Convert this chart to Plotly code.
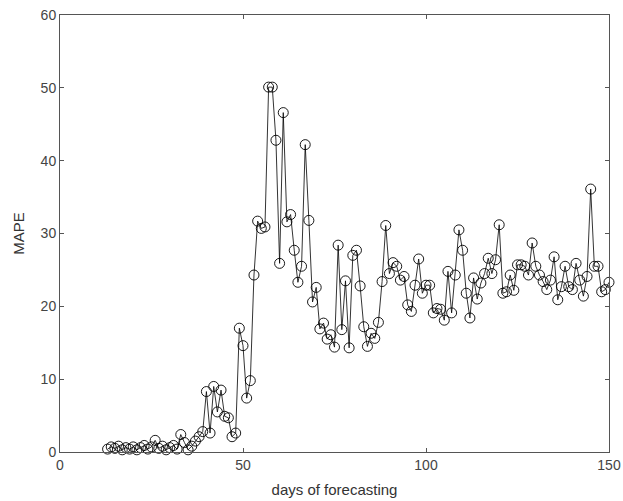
import plotly.graph_objects as go

# Forecast horizon (days) and the mean absolute percentage error for each day
days = list(range(13, 151))
mape = [
    0.4, 0.7, 0.5, 0.8, 0.3, 0.6, 0.4, 0.7, 0.3, 0.6,          # 13-22
    0.9, 0.4, 0.7, 1.6, 0.5, 0.8, 0.3, 0.6, 0.9, 0.4,          # 23-32
    2.4, 1.3, 0.3, 0.8, 1.5, 2.1, 2.8, 8.3, 2.6, 9.0,          # 33-42
    5.5, 8.5, 4.9, 4.7, 2.1, 2.6, 17.0, 14.6, 7.4, 9.8,        # 43-52
    24.3, 31.7, 30.7, 30.9, 50.1, 50.1, 42.8, 25.9, 46.6, 31.6,  # 53-62
    32.6, 27.7, 23.3, 25.5, 42.2, 31.8, 20.6, 22.6, 16.9, 17.7,  # 63-72
    15.5, 16.1, 14.4, 28.4, 16.8, 23.5, 14.3, 27.0, 27.7, 22.8,  # 73-82
    17.2, 14.5, 16.3, 15.6, 17.8, 23.4, 31.1, 24.5, 26.0, 25.5,  # 83-92
    23.6, 24.1, 20.2, 19.3, 22.9, 26.5, 21.8, 22.9, 22.9, 19.1,  # 93-102
    19.7, 19.6, 18.1, 24.8, 19.1, 24.3, 30.5, 27.7, 21.8, 18.4,  # 103-112
    23.9, 21.0, 23.2, 24.5, 26.6, 24.5, 26.4, 31.2, 21.8, 22.0,  # 113-122
    24.3, 22.2, 25.7, 25.7, 25.5, 24.3, 28.7, 25.5, 24.3, 23.4,  # 123-132
    22.3, 23.6, 26.8, 20.9, 22.7, 25.5, 22.7, 22.3, 25.9, 23.6,  # 133-142
    21.4, 24.1, 36.1, 25.5, 25.5, 22.0, 22.3, 23.3,              # 143-150
]

x_ticks = [0, 50, 100, 150]
y_ticks = [0, 10, 20, 30, 40, 50, 60]

fig = go.Figure(
    go.Scatter(
        x=days,
        y=mape,
        mode="lines+markers",
        line=dict(color="black", width=0.8),
        marker=dict(symbol="circle-open", size=10, color="black",
                    line=dict(width=0.9, color="black")),
        showlegend=False,
        cliponaxis=False,
    )
)

axis_style = dict(
    showline=True,
    linecolor="#555555",
    linewidth=1,
    mirror="ticks",
    ticks="inside",
    ticklen=4,
    tickcolor="#555555",
    showgrid=False,
    zeroline=False,
    automargin=False,
    tickfont=dict(family="Liberation Sans, Arial, sans-serif", size=14, color="#444444"),
    title_font=dict(family="Liberation Sans, Arial, sans-serif", size=15, color="#333333"),
)

fig.update_xaxes(range=[0, 150], tickvals=x_ticks, title_text="days of forecasting",
                 title_standoff=12, **axis_style)
fig.update_yaxes(range=[0, 60], tickvals=y_ticks, title_text="MAPE",
                 title_standoff=12, **axis_style)

fig.update_layout(
    width=623,
    height=501,
    margin=dict(l=60, r=14, t=15, b=49),
    paper_bgcolor="white",
    plot_bgcolor="white",
)

fig.write_html("out.html")
